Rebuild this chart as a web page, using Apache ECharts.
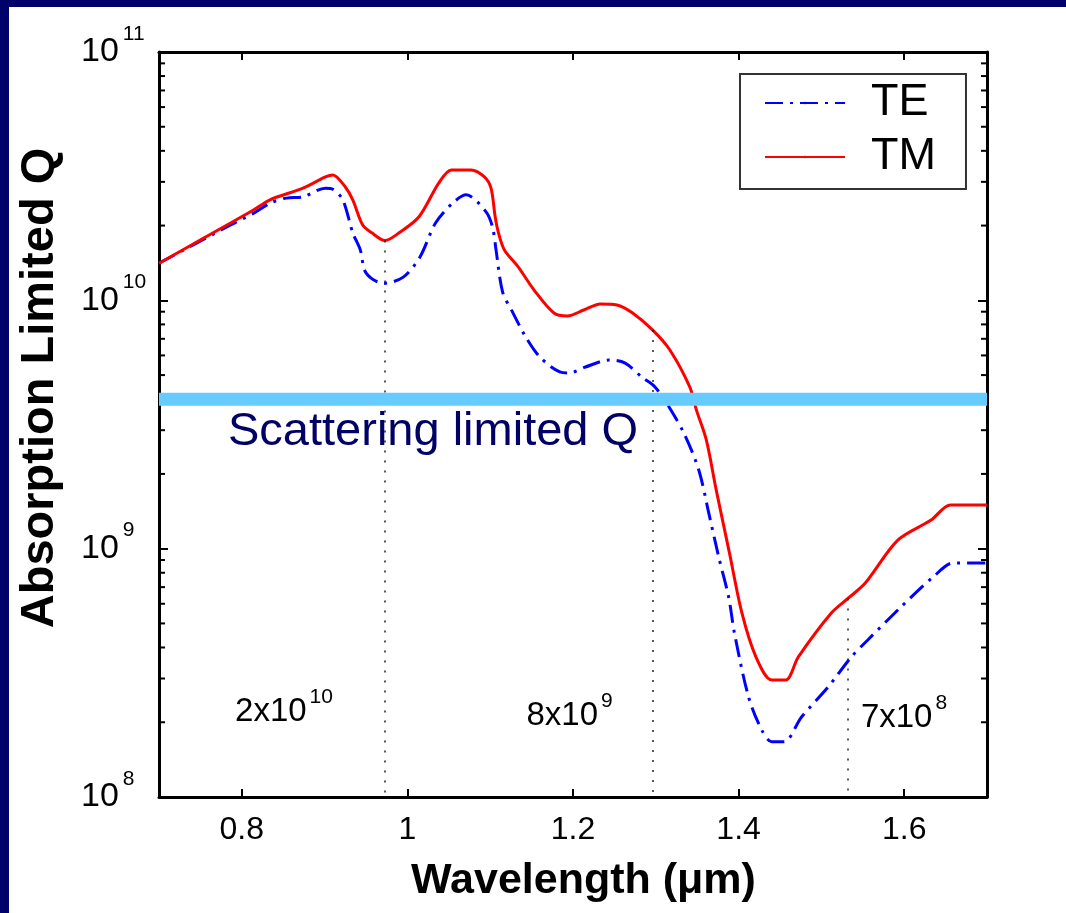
<!DOCTYPE html>
<html>
<head>
<meta charset="utf-8">
<script src="https://cdn.jsdelivr.net/npm/echarts@6/dist/echarts.min.js"></script>
<style>
  html, body { margin: 0; padding: 0; width: 1066px; height: 913px; background: #00006b; overflow: hidden; }
  #chart { position: absolute; left: 9px; top: 7px; width: 1057px; height: 906px; background: #ffffff; }
</style>
</head>
<body>
<div id="chart"></div>
<script>
// Absorption-limited Q of the TE and TM modes versus wavelength
const tmWavelength = [0.70, 0.754, 0.814, 0.834, 0.874, 0.901, 0.910, 0.925, 0.934, 0.946, 0.957, 0.973, 0.990, 1.014, 1.038, 1.053, 1.077, 1.093, 1.101, 1.106, 1.110, 1.117, 1.134, 1.153, 1.177, 1.193, 1.213, 1.233, 1.253, 1.272, 1.296, 1.317, 1.341, 1.349, 1.361, 1.373, 1.389, 1.404, 1.421, 1.440, 1.457, 1.472, 1.512, 1.532, 1.553, 1.592, 1.632, 1.656, 1.70];
const tmQ = [1.41e10, 1.78e10, 2.31e10, 2.54e10, 2.83e10, 3.14e10, 3.20e10, 2.86e10, 2.54e10, 2.01e10, 1.87e10, 1.74e10, 1.87e10, 2.17e10, 2.97e10, 3.35e10, 3.35e10, 3.14e10, 2.83e10, 2.17e10, 1.87e10, 1.60e10, 1.36e10, 1.10e10, 8.89e9, 8.65e9, 9.14e9, 9.67e9, 9.58e9, 8.89e9, 7.6e9, 6.31e9, 4.48e9, 3.62e9, 2.74e9, 1.72e9, 9.6e8, 5.51e8, 3.66e8, 2.96e8, 2.96e8, 3.66e8, 5.51e8, 6.3e8, 7.27e8, 1.08e9, 1.30e9, 1.5e9, 1.5e9];

const teWavelength = [0.70, 0.775, 0.815, 0.835, 0.854, 0.874, 0.901, 0.910, 0.922, 0.934, 0.943, 0.950, 0.971, 0.995, 1.015, 1.034, 1.055, 1.071, 1.095, 1.103, 1.107, 1.115, 1.127, 1.143, 1.160, 1.184, 1.196, 1.215, 1.244, 1.263, 1.283, 1.299, 1.316, 1.335, 1.352, 1.364, 1.376, 1.388, 1.395, 1.412, 1.428, 1.440, 1.455, 1.476, 1.508, 1.536, 1.556, 1.596, 1.635, 1.659, 1.70];
const teQ = [1.41e10, 1.92e10, 2.25e10, 2.47e10, 2.58e10, 2.61e10, 2.83e10, 2.80e10, 2.54e10, 1.87e10, 1.60e10, 1.29e10, 1.17e10, 1.24e10, 1.49e10, 2.05e10, 2.47e10, 2.66e10, 2.27e10, 1.96e10, 1.60e10, 1.08e10, 8.97e9, 7.11e9, 5.91e9, 5.15e9, 5.10e9, 5.39e9, 5.75e9, 5.59e9, 4.91e9, 4.48e9, 3.72e9, 2.87e9, 2.07e9, 1.39e9, 9.25e8, 6.38e8, 4.57e8, 2.53e8, 1.86e8, 1.67e8, 1.67e8, 2.10e8, 2.77e8, 3.66e8, 4.29e8, 5.82e8, 7.69e8, 8.76e8, 8.76e8];

// scattering-limited Q level
const scatteringQ = 4e9;

// wavelengths marked with dotted drop lines, and their TM-Q annotations
const markerWavelength = [0.973, 1.296, 1.532];
const markerMantissa = ['2x10', '8x10', '7x10'];
const markerExponent = ['10', '9', '8'];

// axis ranges
const X_MIN = 0.7, X_MAX = 1.7;
const Y_MIN = 1e8, Y_MAX = 1e11;

// log minor tick values (2..9 per decade)
const minorTickQ = [];
for (let d = 8; d < 11; d++) {
  for (let k = 2; k <= 9; k++) minorTickQ.push(k * Math.pow(10, d));
}

const FONT = '"Liberation Sans", Arial, Helvetica, sans-serif';

const pairs = (xs, ys) => xs.map((x, i) => [x, ys[i]]);
const tmAt = w => tmQ[tmWavelength.indexOf(w)];

const chart = echarts.init(document.getElementById('chart'), null, { renderer: 'canvas' });

const axisLineStyle = { color: '#000', width: 3 };
const tickStyle = { color: '#000', width: 2 };

const option = {
  backgroundColor: '#ffffff',
  animation: false,
  grid: { left: 145, top: 45, width: 833, height: 745, containLabel: false },
  legend: {
    data: ['TE', 'TM'],
    orient: 'vertical',
    left: 731,
    top: 67,
    padding: [6, 30, 9, 24],
    itemGap: 8,
    itemWidth: 80,
    itemHeight: 3,
    backgroundColor: '#ffffff',
    borderColor: '#333333',
    borderWidth: 2,
    borderRadius: 0,
    selectedMode: false,
    textStyle: { fontFamily: FONT, fontSize: 45, lineHeight: 46, color: '#000', padding: [0, 0, 0, 21] }
  },
  xAxis: [
    {
      type: 'value', position: 'bottom', min: X_MIN, max: X_MAX,
      name: 'Wavelength (\u03bcm)', nameLocation: 'middle', nameGap: 63,
      nameTextStyle: { fontFamily: FONT, fontSize: 43, fontWeight: 'bold', color: '#000', padding: [0, 0, 0, 21] },
      axisLine: { show: true, onZero: false, lineStyle: axisLineStyle },
      axisTick: { show: true, inside: true, length: 8, lineStyle: tickStyle },
      axisLabel: { show: true, fontFamily: FONT, fontSize: 32, color: '#000', margin: 17, showMinLabel: false, showMaxLabel: false },
      splitLine: { show: false }
    },
    {
      type: 'value', position: 'top', min: X_MIN, max: X_MAX,
      axisLine: { show: true, onZero: false, lineStyle: axisLineStyle },
      axisTick: { show: true, inside: true, length: 8, lineStyle: tickStyle },
      axisLabel: { show: false },
      splitLine: { show: false }
    }
  ],
  yAxis: [
    {
      type: 'log', logBase: 10, position: 'left', min: Y_MIN, max: Y_MAX,
      name: 'Absorption Limited Q', nameLocation: 'middle', nameRotate: 90, nameGap: 95,
      nameTextStyle: { fontFamily: FONT, fontSize: 47, fontWeight: 'bold', color: '#000', padding: [0, 0, 0, 73] },
      axisLine: { show: true, onZero: false, lineStyle: axisLineStyle },
      axisTick: { show: true, inside: true, length: 9, lineStyle: tickStyle },
      axisLabel: {
        show: true, align: 'left', margin: 78,
        formatter: v => '{b|10}{s|' + Math.round(Math.log10(v)) + '}',
        rich: {
          b: { fontFamily: FONT, fontSize: 34, lineHeight: 34, color: '#000', verticalAlign: 'middle' },
          s: { fontFamily: FONT, fontSize: 21, lineHeight: 21, color: '#000', verticalAlign: 'middle', padding: [0, 0, 36, 4] }
        }
      },
      splitLine: { show: false }
    },
    {
      type: 'log', logBase: 10, position: 'right', min: Y_MIN, max: Y_MAX,
      axisLine: { show: true, onZero: false, lineStyle: axisLineStyle },
      axisTick: { show: true, inside: true, length: 9, lineStyle: tickStyle },
      axisLabel: { show: false },
      splitLine: { show: false }
    }
  ],
  series: [
    {
      name: 'TE', type: 'line', xAxisIndex: 0, yAxisIndex: 0,
      data: pairs(teWavelength, teQ),
      showSymbol: false, symbol: 'none', smooth: 0.3, z: 3,
      lineStyle: { color: '#0000ff', width: 3, type: [18, 7, 3, 7] },
      itemStyle: { color: '#0000ff' }
    },
    {
      name: 'TM', type: 'line', xAxisIndex: 0, yAxisIndex: 0,
      data: pairs(tmWavelength, tmQ),
      showSymbol: false, symbol: 'none', smooth: 0.3, z: 4,
      lineStyle: { color: '#ff0000', width: 3, type: 'solid' },
      itemStyle: { color: '#ff0000' },
      markLine: {
        silent: true, symbol: 'none', animation: false,
        label: { show: false },
        lineStyle: { color: '#222', width: 1.5, type: [2, 8] },
        data: markerWavelength.map(w => [{ coord: [w, tmAt(w)] }, { coord: [w, Y_MIN] }])
      }
    },
    {
      name: 'Scattering limited Q', type: 'line', xAxisIndex: 0, yAxisIndex: 0,
      data: [[X_MIN, scatteringQ], [X_MAX, scatteringQ]],
      showSymbol: false, symbol: 'none', z: 6, silent: true,
      lineStyle: { color: '#66ccff', width: 13, cap: 'butt' }
    },
    {
      name: 'minor ticks', type: 'custom', xAxisIndex: 0, yAxisIndex: 0,
      coordinateSystem: 'cartesian2d', silent: true, z: 2,
      data: minorTickQ.map(v => [X_MIN, v]),
      renderItem: (params, api) => {
        const v = api.value(1);
        const l = api.coord([X_MIN, v]);
        const r = api.coord([X_MAX, v]);
        return {
          type: 'group',
          children: [
            { type: 'line', shape: { x1: l[0], y1: l[1], x2: l[0] + 6, y2: l[1] }, style: { stroke: '#000', lineWidth: 2 } },
            { type: 'line', shape: { x1: r[0] - 6, y1: r[1], x2: r[0], y2: r[1] }, style: { stroke: '#000', lineWidth: 2 } }
          ]
        };
      }
    }
  ],
  graphic: []
};

chart.setOption(option);

// annotation texts, offset in pixels from the foot of each drop line
const annotationShift = [[-150, -85], [-126, -81], [13, -79]];
const supRich = {
  b: { fontFamily: FONT, fontSize: 33, lineHeight: 33, color: '#000', verticalAlign: 'middle' },
  s: { fontFamily: FONT, fontSize: 21, lineHeight: 21, color: '#000', verticalAlign: 'middle', padding: [0, 0, 30, 3] }
};
const graphics = markerWavelength.map((w, i) => {
  const p = chart.convertToPixel({ xAxisIndex: 0, yAxisIndex: 0 }, [w, Y_MIN]);
  return {
    type: 'text', x: p[0] + annotationShift[i][0], y: p[1] + annotationShift[i][1], z: 10, silent: true,
    style: { text: '{b|' + markerMantissa[i] + '}{s|' + markerExponent[i] + '}', rich: supRich, align: 'left', verticalAlign: 'middle' }
  };
});
const sp = chart.convertToPixel({ xAxisIndex: 0, yAxisIndex: 0 }, [X_MIN, scatteringQ]);
graphics.push({
  type: 'text', x: sp[0] + 69, y: sp[1] + 33, z: 10, silent: true,
  style: { text: 'Scattering limited Q', fontFamily: FONT, fontSize: 47, fill: '#000066', align: 'left', verticalAlign: 'middle' }
});
chart.setOption({ graphic: graphics });
</script>
</body>
</html>
